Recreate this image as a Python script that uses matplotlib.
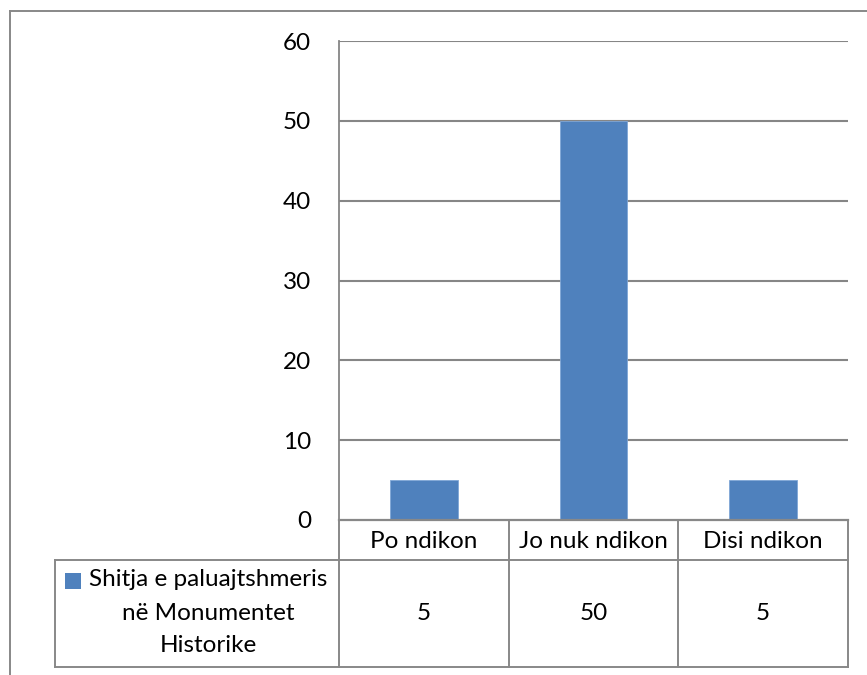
import matplotlib
matplotlib.use("Agg")
import matplotlib.pyplot as plt
from matplotlib.patches import Rectangle

# Data
categories = ["Po ndikon", "Jo nuk ndikon", "Disi ndikon"]
values = [5, 50, 5]
series_name = ["Shitja e paluajtshmeris", "në Monumentet", "Historike"]
y_ticks = [0, 10, 20, 30, 40, 50, 60]

W, H = 867, 675
DPI = 100
BAR = "#4F81BD"
GRID = "#868686"
FONT = "Lato"
FS = 17.5

plt.rcParams["font.family"] = [FONT, "DejaVu Sans"]

fig = plt.figure(figsize=(W / DPI, H / DPI), dpi=DPI)


def fx(px):
    return px / W


def fy(py):
    return 1 - py / H


# Plot area (pixel layout)
L, R, T, B = 339, 848, 41, 520
ax = fig.add_axes([fx(L), fy(B), fx(R) - fx(L), fy(T) - fy(B)])
x = list(range(len(categories)))
ax.bar(x, values, width=0.4, color=BAR, edgecolor="#7FA6D6", linewidth=0.6, zorder=3)
ax.set_xlim(-0.5, len(categories) - 0.5)
ax.set_ylim(0, 60)
ax.set_yticks(y_ticks)
ax.set_yticklabels([str(v) for v in y_ticks], fontsize=FS)
ax.tick_params(axis="y", length=0, pad=20)
ax.set_xticks([])
for v in y_ticks[1:]:
    ax.axhline(v, color=GRID, linewidth=1.5, zorder=1)
for s in ["top", "right", "bottom"]:
    ax.spines[s].set_visible(False)
ax.spines["left"].set_color(GRID)
ax.spines["left"].set_linewidth(1.3)

# Overlay in pixel coordinates for the frame and the data table
ov = fig.add_axes([0, 0, 1, 1], zorder=5)
ov.set_xlim(0, W)
ov.set_ylim(H, 0)
ov.axis("off")
ov.patch.set_alpha(0)

lc = "#888888"
lw = 1.4
# Chart frame
ov.plot([10, 10], [11, H + 5], color=lc, lw=lw)
ov.plot([10, W + 5], [11, 11], color=lc, lw=lw)

# Table grid
col_edges = [L + (R - L) * i / len(categories) for i in range(len(categories) + 1)]
row1_top, row1_bot, row2_bot = B, 560, 667
leg_left = 55
ov.plot([L, R], [row1_top, row1_top], color=lc, lw=1.6)
ov.plot([leg_left, R], [row1_bot, row1_bot], color=lc, lw=lw)
ov.plot([leg_left, R], [row2_bot, row2_bot], color=lc, lw=lw)
ov.plot([leg_left, leg_left], [row1_bot, row2_bot], color=lc, lw=lw)
for cx in col_edges:
    ov.plot([cx, cx], [row1_top, row2_bot], color=lc, lw=lw)

for i, (cat, val) in enumerate(zip(categories, values)):
    cx = (col_edges[i] + col_edges[i + 1]) / 2
    ov.text(cx, (row1_top + row1_bot) / 2 + 1, cat, ha="center", va="center", fontsize=FS)
    ov.text(cx, (row1_bot + row2_bot) / 2, str(val), ha="center", va="center", fontsize=FS)

# Series label with legend key
leg_cx = 208
line_y = [580, 613, 645]
for t, yy in zip(series_name, line_y):
    ov.text(leg_cx, yy, t, ha="center", va="center", fontsize=FS)
ov.add_patch(Rectangle((65, 573), 16, 16, facecolor=BAR, edgecolor="none"))

fig.savefig("out.png", dpi=DPI)
